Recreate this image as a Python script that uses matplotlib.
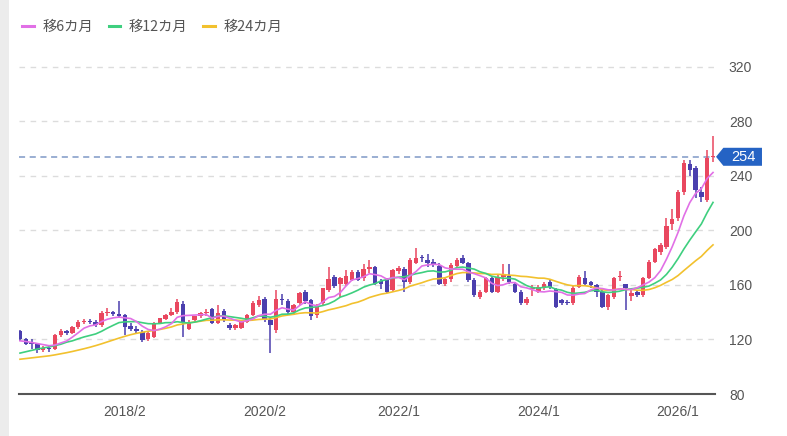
import matplotlib
matplotlib.use("Agg")
import matplotlib.pyplot as plt
from matplotlib.lines import Line2D
from matplotlib.patches import Polygon, Rectangle
import matplotlib.transforms as mtransforms
import numpy as np
import pandas as pd

plt.rcParams['font.family'] = ['Noto Sans CJK JP', 'DejaVu Sans']

# ---- data (monthly candles, 2016/8 .. 2026/7) ----
start_month = "2016-08"
opens = [126, 120, 117, 116.5, 112, 114, 113, 123, 126, 125,
         129.5, 133, 133.5, 133, 130.5, 139.5, 139.8, 139, 138, 130,
         128, 125.7, 120, 122, 132, 135, 138, 140, 146, 128,
         134, 137, 139.5, 142, 132, 141, 130.6, 128.2, 128.5, 133,
         138, 145.4, 150, 134.3, 127, 150, 148, 140, 146.6, 155,
         149, 138, 146.6, 156, 166, 161, 160.6, 163.7, 169.6, 165,
         172, 173, 163, 163.7, 156, 170, 172, 162.5, 176, 180.5,
         178, 177, 174, 161, 164, 173.6, 179.6, 176, 163.7, 151.4,
         155, 164.9, 155, 166, 166.6, 161, 155, 146.6, 157, 155,
         157.5, 162.4, 157, 149, 147.8, 146.6, 158.8, 165, 162.4, 160,
         155, 144, 151, 166, 160.6, 152, 155, 152.5, 165, 177,
         184, 188, 205, 209, 228, 249, 245.6, 228.5, 222.4, 254]
highs = [127, 121, 120, 117, 115, 116, 124, 128, 127, 130,
         134, 135, 135, 134, 141, 143, 141, 148, 139, 132,
         130, 127, 126, 133, 136, 139, 143, 150, 148, 134,
         137.5, 140, 142, 143, 145, 142, 132, 131.5, 133.5, 139,
         148, 152, 151, 136, 156, 153, 150, 146, 155, 156,
         150, 146, 158, 173, 167, 166, 171, 171, 171, 175,
         178, 174, 164, 165, 172, 174, 173, 180, 187, 182,
         183, 179, 176, 166, 176, 180, 182, 177, 165, 156,
         166, 166, 167, 175, 175, 162, 156, 151, 160, 160,
         162, 164, 158, 150, 149, 160, 167, 170, 163, 161,
         156, 153, 166, 170, 161, 156, 156, 166, 178, 187,
         191, 209, 216, 230, 252, 251.5, 247, 232, 259, 269]
lows = [119, 116, 113, 110, 110.5, 111, 112, 122, 123, 124,
        128, 131, 131, 129, 129.5, 137, 137, 136, 123, 126,
        125, 118, 119, 121, 131, 134, 137, 139, 122, 127,
        133, 136, 137, 131, 131, 133, 127, 127, 127.5, 132,
        137, 144, 133, 110, 125, 145, 139, 138, 145, 146,
        134, 136, 145, 155, 158, 151, 159, 163, 163, 163,
        169, 160, 157, 154, 155, 168, 155, 161, 175, 177,
        173, 173, 160, 159, 162, 173, 175, 162, 151, 150,
        154, 154, 154, 163, 161, 154, 145, 145, 152, 154,
        156, 157, 143, 145, 145, 145, 158, 160, 158, 151,
        143, 141.7, 150, 163, 141.7, 148, 151, 151, 164, 176,
        182, 186, 200, 207, 226, 240, 224, 221, 221, 250]
closes = [120, 117, 116.5, 112, 114, 113, 123, 126, 125, 129.5,
          133, 133.3, 133, 130.5, 139.4, 139.8, 139, 137, 129.5, 127.5,
          126, 119.6, 124.5, 132, 135.5, 138, 140, 147.5, 132, 133,
          137, 139.5, 140.5, 132, 139.5, 134, 128.2, 130.6, 132.6, 138,
          146.6, 149, 134.3, 130.6, 150, 149, 140.5, 145, 154, 148,
          137, 144, 157.5, 164, 159, 165, 166.6, 169.6, 163.7, 172,
          172.5, 161, 161, 155, 171, 172.3, 162.5, 178.4, 179.6, 179.5,
          176, 175, 161, 164, 174.8, 178.4, 176, 163.7, 152.7, 155,
          164.9, 155, 166, 167, 162.4, 155, 146.6, 150, 158, 158.8,
          161, 158.8, 144, 146.6, 146.5, 158, 166, 161, 160, 155,
          144, 152.6, 165, 166.5, 157.5, 154, 152.5, 165, 177, 186,
          189, 203.5, 208, 228, 249.5, 244, 229.7, 224.7, 253, 254]

ma6_head = [119, 118.5, 117.8, 117, 116.2]
ma12_head = [110, 111, 112, 113, 113.8, 114.5, 115.5, 116.5, 118, 119, 120.5]
ma24_head = [105.5, 106, 106.5, 107, 107.5, 108, 108.7, 109.5, 110.3, 111.2,
             112.2, 113.2, 114.3, 115.5, 116.8, 118.2, 119.6, 121, 122.3, 123.5,
             124.5, 125.3, 126]

current_price = 254
xtick_labels = ["2018/2", "2020/2", "2022/1", "2024/1", "2026/1"]
ytick_values = [80, 120, 160, 200, 240, 280, 320]
legend_labels = ["移6カ月", "移12カ月", "移24カ月"]

# ---- derived ----
months = pd.period_range(start=start_month, periods=len(closes), freq="M")
month_labels = [f"{p.year}/{p.month}" for p in months]
x = np.arange(len(closes))
o = np.array(opens); h = np.array(highs); l = np.array(lows); c = np.array(closes)

cs = pd.Series(c)
ma6 = cs.rolling(6).mean().to_numpy()
ma12 = cs.rolling(12).mean().to_numpy()
ma24 = cs.rolling(24).mean().to_numpy()
ma6[:len(ma6_head)] = ma6_head
ma12[:len(ma12_head)] = ma12_head
ma24[:len(ma24_head)] = ma24_head

RED = "#e9475f"
BLUE = "#4b3fae"
C6 = "#e170e6"
C12 = "#3fcf7f"
C24 = "#f2c12e"

fig = plt.figure(figsize=(7.87, 4.36), dpi=100)
fig.patch.set_facecolor("white")
fig.patches.append(Rectangle((0, 0), 9/787, 1, transform=fig.transFigure,
                             facecolor="#ececec", edgecolor="none", zorder=0))

ax = fig.add_axes([19/787, (436-394)/436, 696/787, 349/436])
ax.set_facecolor("none")

up = c >= o
colors = np.where(up, RED, BLUE)
body_bottom = np.minimum(o, c)
body_h = np.maximum(np.abs(c - o), 0.8)

ax.vlines(x, l, h, colors=colors, linewidth=1.1, zorder=2)
ax.bar(x, body_h, bottom=body_bottom, width=0.76, color=colors,
       edgecolor="none", zorder=3)

ax.plot(x, ma24, color=C24, lw=1.2, zorder=4)
ax.plot(x, ma12, color=C12, lw=1.2, zorder=4)
ax.plot(x, ma6, color=C6, lw=1.2, zorder=5)

# grid lines
for v in ytick_values[1:]:
    ax.axhline(v, color="#dcdcdc", lw=1, ls=(0, (4, 4)), zorder=1)
ax.axhline(current_price, color="#7f98c6", lw=1.1, ls=(0, (4, 3)), zorder=1)

ax.set_xlim(-0.17, len(closes) - 1 + 0.34)
ax.set_ylim(80, 336)

for s in ["top", "right", "left"]:
    ax.spines[s].set_visible(False)
ax.spines["bottom"].set_color("#555555")
ax.spines["bottom"].set_linewidth(1.5)

xt = [month_labels.index(lbl) for lbl in xtick_labels]
ax.set_xticks(xt)
ax.set_xticklabels(xtick_labels, fontsize=10, color="#555555", family="Liberation Sans")
ax.tick_params(axis="x", length=0, pad=8)

ax.yaxis.tick_right()
ax.set_yticks(ytick_values)
ax.set_yticklabels([str(v) for v in ytick_values], fontsize=10, color="#555555",
                   family="Liberation Sans")
ax.tick_params(axis="y", length=0, pad=10)

# current price tag
trans = mtransforms.blended_transform_factory(ax.transAxes, ax.transData)
hh = 9 / 1.363
tip = 1.0015
bl = 1.012
br = 1.0675
poly = Polygon([(tip, current_price), (bl, current_price + hh), (br, current_price + hh),
                (br, current_price - hh), (bl, current_price - hh)],
               closed=True, transform=trans, facecolor="#2563c4", edgecolor="none",
               clip_on=False, zorder=6)
ax.add_patch(poly)
ax.text((bl + br) / 2 + 0.001, current_price, str(current_price), transform=trans,
        color="white", fontsize=10.5, ha="center", va="center",
        family="Liberation Sans", zorder=7, clip_on=False)

handles = [Line2D([0], [0], color=C6, lw=2.2),
           Line2D([0], [0], color=C12, lw=2.2),
           Line2D([0], [0], color=C24, lw=2.2)]
fig.legend(handles, legend_labels, loc="center left", bbox_to_anchor=(0.012, 0.938),
           ncol=3, frameon=False, fontsize=10.3, handlelength=0.8, handletextpad=0.6,
           columnspacing=1.1, labelcolor="#555555")

fig.savefig("out.png", dpi=100)
